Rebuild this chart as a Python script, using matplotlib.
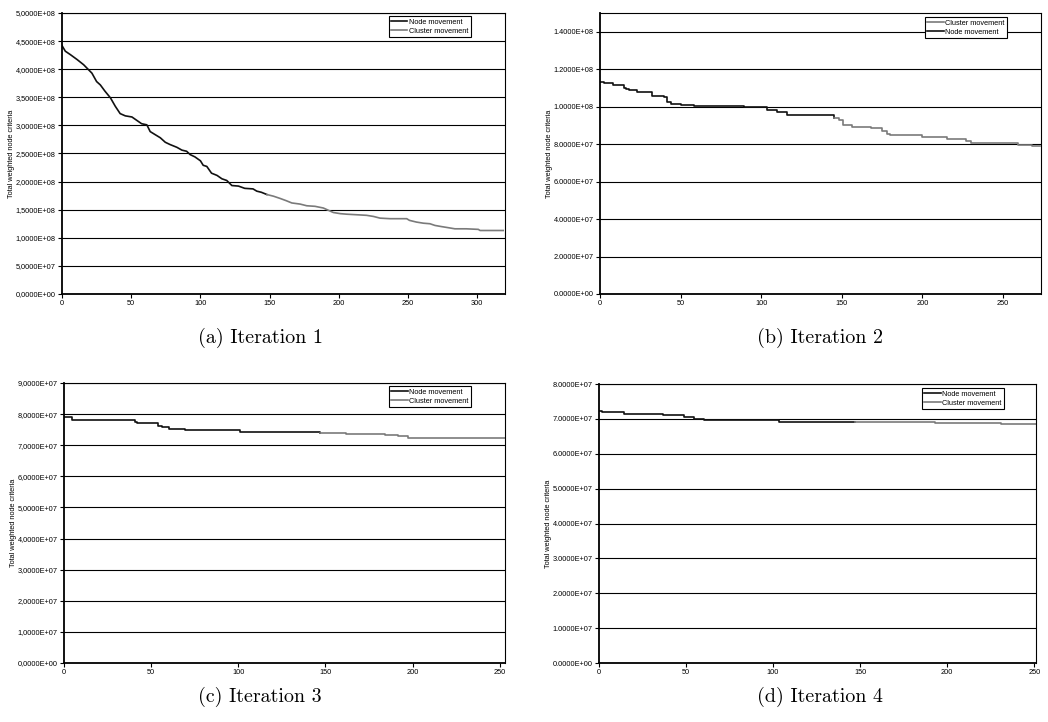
import matplotlib
matplotlib.use("Agg")
import matplotlib.pyplot as plt
from matplotlib.ticker import FuncFormatter, MultipleLocator

# ---------------- data ----------------
# Iteration 1
it1_x = [0, 2.4, 6, 11, 15.6, 18, 21.6, 25, 27.7, 31, 35, 38.5, 42, 45.7, 50.5, 54, 57.5, 61.3,
         63.7, 67, 71, 74.6, 78, 83, 86.6, 90, 92.6, 96, 100, 102, 104.6, 108, 112, 115.5, 119,
         122.7, 127.5, 132, 138, 140.7, 144, 148, 152.8, 157.6, 162, 166, 172, 176.8, 182.8,
         188.8, 192.4, 196, 200.9, 205.7, 213, 220, 225, 229.7, 237, 249, 251, 256, 261, 265.8,
         269.4, 274, 279, 283.8, 292, 300.7, 302, 318.7]
it1_y = [4.42e8, 4.32e8, 4.26e8, 4.17e8, 4.08e8, 4.02e8, 3.93e8, 3.78e8, 3.72e8, 3.61e8, 3.49e8,
         3.34e8, 3.21e8, 3.17e8, 3.15e8, 3.09e8, 3.03e8, 3.01e8, 2.89e8, 2.84e8, 2.78e8, 2.70e8,
         2.66e8, 2.61e8, 2.56e8, 2.54e8, 2.48e8, 2.44e8, 2.37e8, 2.29e8, 2.27e8, 2.15e8, 2.11e8,
         2.05e8, 2.02e8, 1.93e8, 1.92e8, 1.88e8, 1.87e8, 1.83e8, 1.81e8, 1.77e8, 1.74e8, 1.70e8,
         1.66e8, 1.62e8, 1.60e8, 1.57e8, 1.56e8, 1.53e8, 1.49e8, 1.45e8, 1.43e8, 1.42e8, 1.41e8,
         1.40e8, 1.38e8, 1.35e8, 1.34e8, 1.34e8, 1.31e8, 1.28e8, 1.26e8, 1.25e8, 1.22e8, 1.20e8,
         1.18e8, 1.16e8, 1.16e8, 1.15e8, 1.13e8, 1.13e8]
it1_split = 148

# Iteration 2
it2_x = [0, 2.5, 8.3, 15, 16, 18, 23, 32.5, 39.7, 41.4, 43.8, 50, 58, 89, 103.8, 110, 116, 145,
         148, 151, 156.5, 168, 175, 178, 180, 200, 215.5, 227, 230, 259, 268, 273]
it2_y = [1.133e8, 1.126e8, 1.117e8, 1.100e8, 1.094e8, 1.087e8, 1.076e8, 1.055e8, 1.050e8,
         1.025e8, 1.016e8, 1.010e8, 1.005e8, 0.996e8, 0.984e8, 0.973e8, 0.957e8, 0.939e8,
         0.927e8, 0.904e8, 0.890e8, 0.884e8, 0.872e8, 0.854e8, 0.850e8, 0.836e8, 0.827e8,
         0.815e8, 0.806e8, 0.797e8, 0.788e8, 0.788e8]
it2_split = 145

# Iteration 3
it3_x = [0, 4.4, 40.7, 41.6, 54, 56, 60, 69.4, 101, 146.8, 162, 184, 191.7, 197.4, 253]
it3_y = [7.90e7, 7.82e7, 7.74e7, 7.70e7, 7.61e7, 7.59e7, 7.53e7, 7.49e7, 7.43e7, 7.40e7,
         7.37e7, 7.34e7, 7.31e7, 7.24e7, 7.24e7]
it3_split = 146.8

# Iteration 4
it4_x = [0, 2, 14.2, 37, 48.8, 54.5, 60.3, 103.5, 192.8, 231, 251]
it4_y = [7.23e7, 7.19e7, 7.13e7, 7.10e7, 7.06e7, 7.01e7, 6.97e7, 6.90e7, 6.89e7, 6.85e7, 6.85e7]
it4_split = 147

captions = ["(a) Iteration 1", "(b) Iteration 2", "(c) Iteration 3", "(d) Iteration 4"]
ylabel = "Total weighted node criteria"
legend_orders = [["Node movement", "Cluster movement"],
                 ["Cluster movement", "Node movement"],
                 ["Node movement", "Cluster movement"],
                 ["Node movement", "Cluster movement"]]

# ---------------- layout ----------------
W, H = 1048, 722
fig = plt.figure(figsize=(W / 100, H / 100), dpi=100)

def rect(l, r, t, b):
    return [l / W, 1 - b / H, (r - l) / W, (b - t) / H]

panels = [
    dict(rect=rect(62, 505, 13, 294), x=it1_x, y=it1_y, split=it1_split, xlim=320,
         ylim=5e8, ystep=5e7, xstep=50, dec=",", steps=False, leg=(0.923, 0.989),
         cap=(260, 338)),
    dict(rect=rect(600, 1041, 13, 294), x=it2_x, y=it2_y, split=it2_split, xlim=273.5,
         ylim=1.5e8, ystep=2e7, xstep=50, dec=".", steps=True, leg=(0.923, 0.986),
         cap=(820, 338)),
    dict(rect=rect(64, 505, 383, 663), x=it3_x, y=it3_y, split=it3_split, xlim=253,
         ylim=9e7, ystep=1e7, xstep=50, dec=",", steps=True, leg=(0.923, 0.989),
         cap=(260, 697)),
    dict(rect=rect(599, 1036, 384, 663), x=it4_x, y=it4_y, split=it4_split, xlim=251,
         ylim=8e7, ystep=1e7, xstep=50, dec=".", steps=True, leg=(0.927, 0.986),
         cap=(820, 697)),
]

BLACK = "#111111"
GRAY = "#7a7a7a"

def split_series(xs, ys, s, steps):
    x1, y1, x2, y2 = [], [], [], []
    for xv, yv in zip(xs, ys):
        if xv <= s:
            x1.append(xv); y1.append(yv)
        if xv >= s:
            x2.append(xv); y2.append(yv)
    if steps:
        last = y1[-1]
        x1.append(s); y1.append(last)
        if not x2 or x2[0] > s:
            x2.insert(0, s); y2.insert(0, last)
    else:
        if x2 and x2[0] > s:
            x2.insert(0, x1[-1]); y2.insert(0, y1[-1])
    return x1, y1, x2, y2

for i, p in enumerate(panels):
    ax = fig.add_axes(p["rect"])
    ax.set_xlim(0, p["xlim"])
    ax.set_ylim(0, p["ylim"])
    ax.yaxis.set_major_locator(MultipleLocator(p["ystep"]))
    ax.xaxis.set_major_locator(MultipleLocator(p["xstep"]))
    dec = p["dec"]
    ax.yaxis.set_major_formatter(FuncFormatter(lambda v, pos, d=dec: f"{v:.4E}".replace(".", d)))
    ax.grid(axis="y", color="black", linewidth=0.8)
    ax.set_axisbelow(True)
    for sp in ax.spines.values():
        sp.set_color("black")
        sp.set_linewidth(0.8)
    ax.spines["left"].set_linewidth(1.3)
    ax.spines["bottom"].set_linewidth(1.3)
    ax.tick_params(axis="both", direction="out", length=3, width=0.8, pad=1.5,
                   labelsize=5.3)
    for lab in ax.get_xticklabels() + ax.get_yticklabels():
        lab.set_family(["Liberation Sans", "DejaVu Sans"])
    ax.set_ylabel(ylabel, fontsize=5.3, family=["Liberation Sans", "DejaVu Sans"], labelpad=0.5)

    x1, y1, x2, y2 = split_series(p["x"], p["y"], p["split"], p["steps"])
    ds = "steps-post" if p["steps"] else "default"
    h_node, = ax.plot(x1, y1, color=BLACK, linewidth=1.2, drawstyle=ds, label="Node movement")
    h_clus, = ax.plot(x2, y2, color=GRAY, linewidth=1.2, drawstyle=ds, label="Cluster movement")
    handles = {"Node movement": h_node, "Cluster movement": h_clus}
    order = legend_orders[i]
    leg = ax.legend([handles[k] for k in order], order, loc="upper right",
                    bbox_to_anchor=p["leg"], borderaxespad=0, fancybox=False,
                    framealpha=1, edgecolor="black",
                    prop=dict(family=["Liberation Sans", "DejaVu Sans"], size=5.3),
                    handlelength=2.2, handletextpad=0.2, borderpad=0.35, labelspacing=0.25)
    leg.get_frame().set_linewidth(0.8)

    cx, cy = p["cap"]
    fig.text(cx / W, 1 - cy / H, captions[i], ha="center", va="center",
             family=["cmr10", "DejaVu Serif"], fontsize=14.4)

fig.savefig("out.png", dpi=100)
